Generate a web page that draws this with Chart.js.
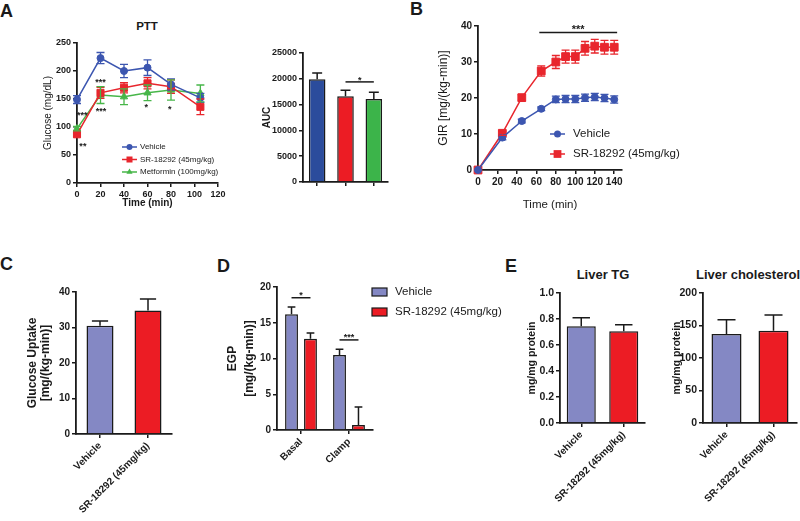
<!DOCTYPE html>
<html>
<head>
<meta charset="utf-8">
<title>SR-18292 metabolic panels</title>
<script src="https://cdn.jsdelivr.net/npm/chart.js@4.4.1/dist/chart.umd.min.js"></script>
<style>
  body { margin: 0; width: 800px; height: 521px; position: relative; overflow: hidden; background: #fff;
         font-family: "Liberation Sans", Arial, sans-serif; color: #1a1a1a; }
  canvas { position: absolute; }
  .letter { position: absolute; font-size: 18px; line-height: 18px; font-weight: bold; }
  .title { position: absolute; font-weight: bold; text-align: center; white-space: nowrap; }
</style>
</head>
<body>
<div class="letter" style="left:0;top:2px">A</div>
<div class="letter" style="left:410px;top:0">B</div>
<div class="letter" style="left:0;top:255px">C</div>
<div class="letter" style="left:217px;top:257px">D</div>
<div class="letter" style="left:505px;top:257px">E</div>
<div class="title" style="left:97px;top:21px;width:100px;font-size:11.5px;line-height:11.5px">PTT</div>
<div class="title" style="left:553px;top:268px;width:100px;font-size:13px;line-height:13px">Liver TG</div>
<div class="title" style="left:683px;top:268px;width:130px;font-size:13px;line-height:13px">Liver cholesterol</div>

<canvas id="ptt-chart" width="212" height="185" style="left:20px;top:30px"></canvas>
<canvas id="auc-chart" width="140" height="175" style="left:256px;top:40px"></canvas>
<canvas id="gir-chart" width="290" height="200" style="left:428px;top:15px"></canvas>
<canvas id="uptake-chart" width="175" height="241" style="left:10px;top:280px"></canvas>
<canvas id="egp-chart" width="300" height="246" style="left:212px;top:275px"></canvas>
<canvas id="tg-chart" width="128" height="259" style="left:522px;top:262px"></canvas>
<canvas id="chol-chart" width="138" height="259" style="left:662px;top:262px"></canvas>

<script>
// ---- data ----

// A: pyruvate tolerance test
const pttTimes = [0, 20, 40, 60, 80, 105];
const pttVehicle = [149, 223, 200, 206, 176, 152];
const pttVehicleErr = [7, 10, 12, 14, 10, 8];
const pttSR = [87, 161, 170, 178, 172, 136];
const pttSRErr = [4, 10, 9, 10, 12, 14];
const pttMetformin = [97, 157, 154, 161, 166, 160];
const pttMetforminErr = [4, 15, 14, 14, 18, 15];
const pttStars = [
  { x: 20, y: 184, text: '***' },
  { x: 4.5, y: 125, text: '***' },
  { x: 20.5, y: 132, text: '***' },
  { x: 5, y: 70, text: '**' },
  { x: 59, y: 139, text: '*' },
  { x: 79, y: 137, text: '*' }
];

// A: area under curve
const aucLabels = ['Vehicle', 'SR-18292 (45mg/kg)', 'Metformin (100mg/kg)'];
const aucValues = [19900, 16600, 16100];
const aucErrors = [1200, 1200, 1300];

// B: glucose infusion rate
const girTimes = [0, 25, 45, 65, 80, 90, 100, 110, 120, 130, 140];
const girVehicle = [0, 9.0, 13.6, 17.0, 19.6, 19.7, 19.7, 20.1, 20.3, 20.0, 19.6];
const girVehicleErr = [0, 0.6, 0.5, 0.5, 0.9, 1.0, 1.0, 1.0, 1.0, 1.0, 1.0];
const girSR = [0, 10.2, 20.1, 27.5, 30.0, 31.5, 31.5, 33.8, 34.4, 34.1, 34.1];
const girSRErr = [0, 0.6, 0.8, 1.4, 1.8, 1.8, 1.8, 1.9, 1.9, 1.9, 1.9];

// C, D, E
const treatmentLabels = ['Vehicle', 'SR-18292 (45mg/kg)'];
const uptakeValues = [30.5, 34.8];
const uptakeErrors = [1.3, 3.2];

const egpPhases = ['Basal', 'Clamp'];
const egpVehicle = [16.2, 10.5];
const egpVehicleErr = [1.0, 0.8];
const egpSR = [12.75, 0.7];
const egpSRErr = [0.8, 2.5];

const tgValues = [0.744, 0.705];
const tgErrors = [0.066, 0.051];
const cholValues = [137, 142];
const cholErrors = [22, 24];

// ---- look ----
const INK = '#1a1a1a';
const LAVENDER = '#8488c4';
const RED = '#ec1c24';
const FONT = '"Liberation Sans", Arial, sans-serif';

Chart.defaults.font.family = FONT;
Chart.defaults.color = INK;
Chart.defaults.animation = false;
Chart.defaults.responsive = false;
Chart.defaults.plugins.legend.display = false;
Chart.defaults.plugins.tooltip.enabled = false;

// error bars (mean +/- SEM on lines, upper whisker only on bars)
const errorBars = {
  id: 'errorBars',
  afterDatasetsDraw(chart) {
    const ctx = chart.ctx;
    chart.data.datasets.forEach((ds, i) => {
      if (!ds.errors) return;
      const meta = chart.getDatasetMeta(i);
      const yScale = chart.scales[meta.yAxisID];
      const isBar = meta.type === 'bar';
      ctx.save();
      ctx.strokeStyle = isBar ? INK : ds.borderColor;
      ctx.lineWidth = isBar ? 1.5 : 1.3;
      meta.data.forEach((el, j) => {
        const e = ds.errors[j];
        if (!e) return;
        const d = ds.data[j];
        const v = typeof d === 'object' ? d.y : d;
        const top = yScale.getPixelForValue(v + e);
        const bottom = isBar ? el.y : yScale.getPixelForValue(v - e);
        const cap = isBar ? el.width * 0.3 : 4;
        ctx.beginPath();
        ctx.moveTo(el.x, bottom);
        ctx.lineTo(el.x, top);
        ctx.moveTo(el.x - cap, top);
        ctx.lineTo(el.x + cap, top);
        if (!isBar) {
          ctx.moveTo(el.x - cap, bottom);
          ctx.lineTo(el.x + cap, bottom);
        }
        ctx.stroke();
      });
      ctx.restore();
    });
  }
};

// significance bars and asterisks
const sigMarks = {
  id: 'sigMarks',
  afterDatasetsDraw(chart, args, opts) {
    if (!opts.lines && !opts.stars) return;
    const ctx = chart.ctx;
    const xScale = chart.scales.x, yScale = chart.scales.y;
    const xPix = v => Array.isArray(v) ? chart.getDatasetMeta(v[0]).data[v[1]].x : xScale.getPixelForValue(v);
    const size = opts.size || 9;
    const gap = opts.gap || 4.5;
    ctx.save();
    ctx.strokeStyle = INK;
    ctx.fillStyle = INK;
    ctx.lineWidth = 1.5;
    ctx.font = 'bold ' + size + 'px ' + FONT;
    ctx.textAlign = 'center';
    ctx.textBaseline = 'alphabetic';
    (opts.lines || []).forEach(l => {
      const x1 = xPix(l.from), x2 = xPix(l.to), y = yScale.getPixelForValue(l.y);
      ctx.beginPath();
      ctx.moveTo(x1, y);
      ctx.lineTo(x2, y);
      ctx.stroke();
      ctx.fillText(l.text, (x1 + x2) / 2, y - gap + size * 0.58);
    });
    (opts.stars || []).forEach(s => {
      ctx.fillText(s.text, xScale.getPixelForValue(s.x), yScale.getPixelForValue(s.y) + size * 0.58);
    });
    ctx.restore();
  }
};

function drawMarker(ctx, style, x, y, r, color) {
  ctx.fillStyle = color;
  ctx.beginPath();
  if (style === 'rect') {
    const s = r * Math.SQRT1_2;
    ctx.rect(x - s, y - s, 2 * s, 2 * s);
  } else if (style === 'triangle') {
    ctx.moveTo(x, y - r);
    ctx.lineTo(x + r * 0.866, y + r / 2);
    ctx.lineTo(x - r * 0.866, y + r / 2);
    ctx.closePath();
  } else {
    ctx.arc(x, y, r, 0, Math.PI * 2);
  }
  ctx.fill();
}

// legend drawn inside the canvas, GraphPad style
const insetLegend = {
  id: 'insetLegend',
  afterDraw(chart, args, opts) {
    if (opts.x === undefined) return;
    const ctx = chart.ctx;
    ctx.save();
    ctx.font = opts.font;
    ctx.textBaseline = 'middle';
    chart.data.datasets.forEach((ds, i) => {
      const y = opts.y + i * opts.gap;
      if (chart.getDatasetMeta(i).type === 'bar') {
        ctx.fillStyle = ds.backgroundColor;
        ctx.fillRect(opts.x - 7.5, y - 4, 15, 8);
        ctx.strokeStyle = INK;
        ctx.lineWidth = 1.2;
        ctx.strokeRect(opts.x - 7.5, y - 4, 15, 8);
      } else {
        ctx.strokeStyle = ds.borderColor;
        ctx.lineWidth = 1.5;
        ctx.beginPath();
        ctx.moveTo(opts.x - 7.5, y);
        ctx.lineTo(opts.x + 7.5, y);
        ctx.stroke();
        drawMarker(ctx, ds.pointStyle, opts.x, y, ds.pointRadius * (opts.scale || 1), ds.borderColor);
      }
      ctx.fillStyle = INK;
      ctx.fillText(ds.label, opts.textX, y);
    });
    ctx.restore();
  }
};

Chart.register(errorBars, sigMarks, insetLegend);

// ---- helpers ----
function tickFont(size) {
  return { size: size, weight: 'bold' };
}

function axisTitle(text, size, weight, pad, lineHeight) {
  return {
    display: true,
    text: text,
    color: INK,
    font: { size: size, weight: weight, lineHeight: lineHeight || 1.2 },
    padding: { top: pad, bottom: pad }
  };
}

function valueAxis(min, max, step, fit, font, title, fmt) {
  return {
    type: 'linear',
    min: min,
    max: max,
    ticks: {
      stepSize: step, font: font, color: INK, padding: 2,
      autoSkip: false, minRotation: 0, maxRotation: 0,
      callback: fmt || (v => String(v))
    },
    grid: { drawOnChartArea: false, drawTicks: true, tickLength: 4, color: INK, lineWidth: 1.5 },
    border: { color: INK, width: 1.8 },
    title: title,
    afterFit: s => { if (s.isHorizontal()) s.height = fit; else s.width = fit; }
  };
}

function categoryAxis(fit, font, showLabels) {
  return {
    type: 'category',
    offset: true,
    ticks: { display: showLabels, font: font, color: INK, minRotation: 45, maxRotation: 45, padding: 2, autoSkip: false },
    grid: { offset: false, drawOnChartArea: false, drawTicks: true, tickLength: 4, color: INK, lineWidth: 1.5 },
    border: { color: INK, width: 1.8 },
    afterFit: s => { s.height = fit; }
  };
}

function lineSet(label, xs, ys, errs, color, style, radius) {
  return {
    label: label,
    data: xs.map((x, i) => ({ x: x, y: ys[i] })),
    errors: errs,
    borderColor: color,
    backgroundColor: color,
    borderWidth: 1.5,
    pointStyle: style,
    pointRadius: radius,
    pointBackgroundColor: color,
    pointBorderColor: color,
    pointBorderWidth: 1,
    tension: 0,
    clip: false
  };
}

function barSet(label, values, errs, colors, barPct, catPct) {
  return {
    label: label,
    data: values,
    errors: errs,
    backgroundColor: colors,
    borderColor: INK,
    borderWidth: 1.5,
    barPercentage: barPct,
    categoryPercentage: catPct
  };
}

// ---- A: PTT ----
new Chart(document.getElementById('ptt-chart'), {
  type: 'line',
  data: {
    datasets: [
      lineSet('Vehicle', pttTimes, pttVehicle, pttVehicleErr, '#3c56b0', 'circle', 3.5),
      lineSet('SR-18292 (45mg/kg)', pttTimes, pttSR, pttSRErr, '#e8262d', 'rect', 5),
      lineSet('Metformin (100mg/kg)', pttTimes, pttMetformin, pttMetforminErr, '#47b649', 'triangle', 4.2)
    ]
  },
  options: {
    layout: { padding: { top: 13, right: 14 } },
    scales: {
      x: valueAxis(0, 120, 20, 32, tickFont(9), axisTitle('Time (min)', 10, 'bold', 6)),
      y: valueAxis(0, 250, 50, 57, tickFont(9), axisTitle('Glucose (mg/dL)', 10, 'normal', 22))
    },
    plugins: {
      insetLegend: { x: 109.5, textX: 120, y: 117, gap: 12.5, scale: 0.85, font: '8px ' + FONT },
      sigMarks: { size: 9, stars: pttStars }
    }
  }
});

// ---- A: AUC ----
new Chart(document.getElementById('auc-chart'), {
  type: 'bar',
  data: {
    labels: aucLabels,
    datasets: [barSet('AUC', aucValues, aucErrors, ['#2b4c9c', RED, '#3cb44a'], 0.9, 0.65)]
  },
  options: {
    layout: { padding: { top: 13, right: 8 } },
    scales: {
      x: categoryAxis(33, tickFont(9), false),
      y: valueAxis(0, 25000, 5000, 47, tickFont(9), axisTitle('AUC', 10, 'bold', 5))
    },
    plugins: {
      sigMarks: { size: 9, lines: [{ from: [0, 1], to: [0, 2], y: 19400, text: '*' }] }
    }
  }
});

// ---- B: GIR ----
// axis runs a little past 140, but only multiples of 20 get a label
const girX = valueAxis(0, 148, 20, 45, tickFont(10), axisTitle('Time (min)', 11.5, 'normal', 3));
girX.ticks.includeBounds = false;

new Chart(document.getElementById('gir-chart'), {
  type: 'line',
  data: {
    datasets: [
      lineSet('Vehicle', girTimes, girVehicle, girVehicleErr, '#3c56b0', 'circle', 3.5),
      lineSet('SR-18292 (45mg/kg)', girTimes, girSR, girSRErr, '#e8262d', 'rect', 5.5)
    ]
  },
  options: {
    layout: { padding: { top: 11, right: 96 } },
    scales: {
      x: girX,
      y: valueAxis(0, 40, 10, 50, tickFont(10), axisTitle('GIR [mg/(kg-min)]', 12, 'normal', 8))
    },
    plugins: {
      insetLegend: { x: 129.5, textX: 145, y: 119, gap: 20, font: '11.5px ' + FONT },
      sigMarks: { size: 11, gap: 5.5, lines: [{ from: 63, to: 143, y: 38.2, text: '***' }] }
    }
  }
});

// ---- C: glucose uptake ----
new Chart(document.getElementById('uptake-chart'), {
  type: 'bar',
  data: {
    labels: treatmentLabels,
    datasets: [barSet('Glucose Uptake', uptakeValues, uptakeErrors, [LAVENDER, RED], 0.9, 0.625)]
  },
  options: {
    layout: { padding: { top: 12, right: 13 } },
    scales: {
      x: categoryAxis(87, tickFont(10), true),
      y: valueAxis(0, 40, 10, 66, tickFont(10), axisTitle(['Glucose Uptake', '[mg/(kg-min)]'], 12, 'bold', 16, 1.1))
    }
  }
});

// ---- D: EGP ----
new Chart(document.getElementById('egp-chart'), {
  type: 'bar',
  data: {
    labels: egpPhases,
    datasets: [
      barSet('Vehicle', egpVehicle, egpVehicleErr, LAVENDER, 0.68, 0.79),
      barSet('SR-18292 (45mg/kg)', egpSR, egpSRErr, RED, 0.68, 0.79)
    ]
  },
  options: {
    layout: { padding: { top: 12, right: 139 } },
    scales: {
      x: categoryAxis(91, tickFont(10), true),
      y: valueAxis(0, 20, 5, 65, tickFont(10), axisTitle(['EGP', '[mg/(kg-min)]'], 12, 'bold', 13, 1.35))
    },
    plugins: {
      insetLegend: { x: 167.5, textX: 183, y: 17, gap: 20, font: '11.5px ' + FONT },
      sigMarks: {
        size: 9,
        gap: 5,
        lines: [
          { from: [0, 0], to: [1, 0], y: 18.5, text: '*' },
          { from: [0, 1], to: [1, 1], y: 12.6, text: '***' }
        ]
      }
    }
  }
});

// ---- E: liver lipids ----
new Chart(document.getElementById('tg-chart'), {
  type: 'bar',
  data: {
    labels: treatmentLabels,
    datasets: [barSet('Liver TG', tgValues, tgErrors, [LAVENDER, RED], 0.9, 0.76)]
  },
  options: {
    layout: { padding: { top: 31, right: 5 } },
    scales: {
      x: categoryAxis(98, tickFont(10), true),
      y: valueAxis(0, 1, 0.2, 38, tickFont(10.5), axisTitle('mg/mg protein', 10.5, 'bold', 4), v => v.toFixed(1))
    }
  }
});

new Chart(document.getElementById('chol-chart'), {
  type: 'bar',
  data: {
    labels: treatmentLabels,
    datasets: [barSet('Liver cholesterol', cholValues, cholErrors, [LAVENDER, RED], 0.9, 0.71)]
  },
  options: {
    layout: { padding: { top: 31, right: 3 } },
    scales: {
      x: categoryAxis(98, tickFont(10), true),
      y: valueAxis(0, 200, 50, 41, tickFont(10.5), axisTitle('mg/mg protein', 10.5, 'bold', 9))
    }
  }
});
</script>
</body>
</html>
